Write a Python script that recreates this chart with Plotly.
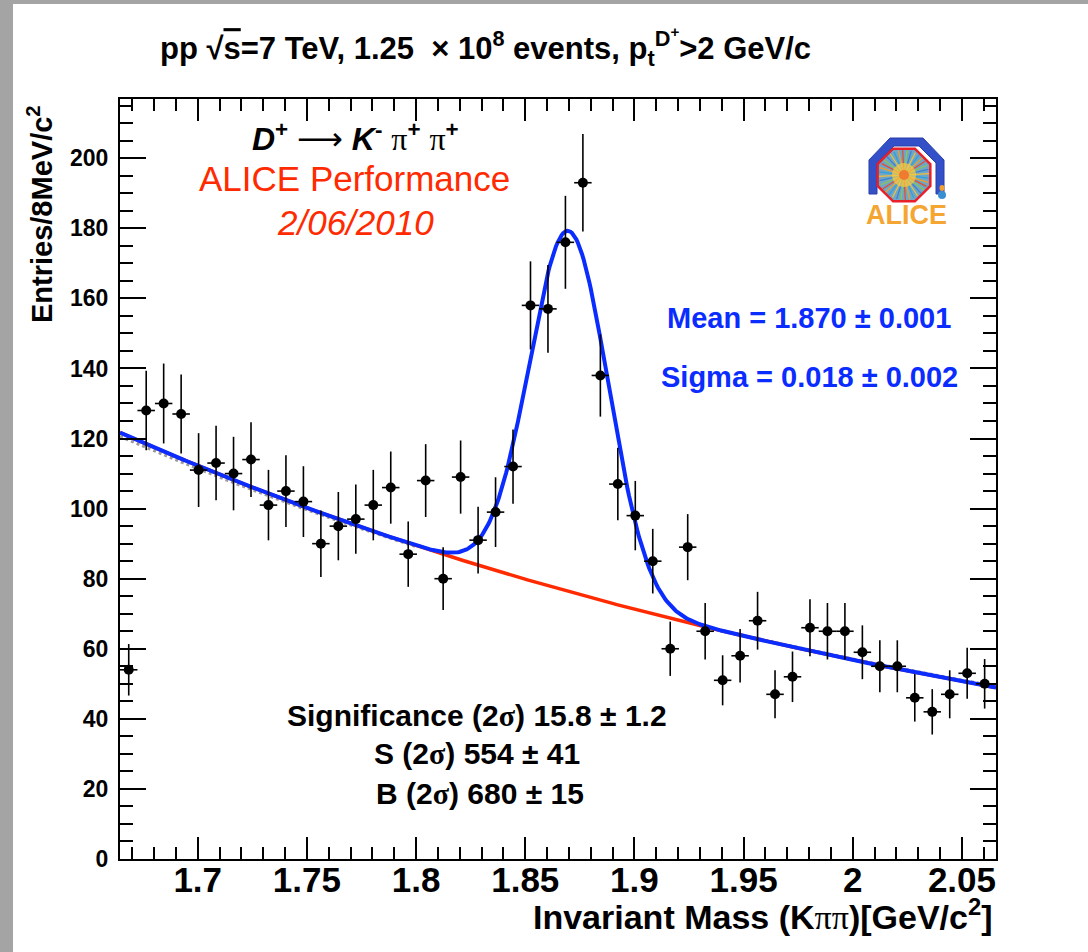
import numpy as np
import plotly.graph_objects as go
from math import erf, sqrt, pi

# ---- D+ -> K- pi+ pi+ invariant-mass histogram (8 MeV/c^2 bins) ----
mass_lo, mass_hi = 1.6644, 2.0656
bin_width = 0.008
bin_centres = [1.6684, 1.6764, 1.6844, 1.6924, 1.7004, 1.7084, 1.7164, 1.7244, 1.7324, 1.7404,
               1.7484, 1.7564, 1.7644, 1.7724, 1.7804, 1.7884, 1.7964, 1.8044, 1.8124, 1.8204,
               1.8284, 1.8364, 1.8444, 1.8524, 1.8604, 1.8684, 1.8764, 1.8844, 1.8924, 1.9004,
               1.9084, 1.9164, 1.9244, 1.9324, 1.9404, 1.9484, 1.9564, 1.9644, 1.9724, 1.9804,
               1.9884, 1.9964, 2.0044, 2.0124, 2.0204, 2.0284, 2.0364, 2.0444, 2.0524, 2.0604]
entries = [54, 128, 130, 127, 111, 113, 110, 114, 101, 105,
           102, 90, 95, 97, 101, 106, 87, 108, 80, 109,
           91, 99, 112, 158, 157, 176, 193, 138, 107, 98,
           85, 60, 89, 65, 51, 58, 68, 47, 52, 66,
           65, 65, 59, 55, 55, 46, 42, 47, 53, 50]

# ---- fit results ----
mean_val, mean_err = 1.870, 0.001
sigma_val, sigma_err = 0.018, 0.002
signif_val, signif_err = 15.8, 1.2
sig_2s, sig_2s_err = 554, 41
bkg_2s, bkg_2s_err = 680, 15
# exponential background  N(m) = A * exp(-slope * (m - mass_lo))
bkg_norm, bkg_slope = 121.7, 2.27
# side-band-only background fit
sb_norm, sb_slope = 120.6, 2.23
sb_left_max, sb_right_min = 1.800, 1.935

x_ticks = [1.70, 1.75, 1.80, 1.85, 1.90, 1.95, 2.00, 2.05]
x_tick_text = ["1.7", "1.75", "1.8", "1.85", "1.9", "1.95", "2", "2.05"]
y_ticks = [0, 20, 40, 60, 80, 100, 120, 140, 160, 180, 200]
y_max = 216.9

# ---- canvas geometry (pixels) ----
W, H = 1088, 952
PL, PR, PT, PB = 120, 996, 99, 859


def px(X):
    return (X - PL) / (PR - PL)


def py(Y):
    return (PB - Y) / (PB - PT)


FONT = "Liberation Sans, Arial, Helvetica, sans-serif"
SERIF = "Liberation Serif, Times New Roman, serif"
BLUE = "#0a2cff"
RED = "#ff2a00"

errs = [sqrt(n) for n in entries]

m = np.linspace(mass_lo, mass_hi, 600)
bkg = bkg_norm * np.exp(-bkg_slope * (m - mass_lo))
gauss_amp = sig_2s * bin_width / (sigma_val * sqrt(2 * pi) * erf(sqrt(2)))
total = bkg + gauss_amp * np.exp(-0.5 * ((m - mean_val) / sigma_val) ** 2)
sb_curve = sb_norm * np.exp(-sb_slope * (m - mass_lo))
sb_curve_masked = np.where((m < sb_left_max) | (m > sb_right_min), sb_curve, np.nan)

fig = go.Figure()

fig.add_trace(go.Scatter(x=m, y=sb_curve_masked, mode="lines",
                         line=dict(color="#9a9a9a", width=3, dash="dot"),
                         hoverinfo="skip", showlegend=False))
fig.add_trace(go.Scatter(x=m, y=bkg, mode="lines",
                         line=dict(color=RED, width=3.5),
                         hoverinfo="skip", showlegend=False))
fig.add_trace(go.Scatter(x=m, y=total, mode="lines",
                         line=dict(color=BLUE, width=4),
                         hoverinfo="skip", showlegend=False))
fig.add_trace(go.Scatter(
    x=bin_centres, y=entries, mode="markers",
    marker=dict(color="black", size=10, symbol="circle"),
    error_y=dict(type="data", array=errs, color="black", thickness=1.6, width=0),
    error_x=dict(type="constant", value=bin_width / 2, color="black", thickness=1.6, width=0),
    showlegend=False))

# ---- page background and logo ----
shapes = [
    dict(type="rect", xref="paper", yref="paper", layer="below",
         x0=px(13), x1=px(W + 5), y0=py(4), y1=py(H + 5),
         fillcolor="white", line=dict(width=0)),
]

# ALICE logo: arch, octagon and radiating tracks
cx, cy, R = 904, 175, 28.5


def path_from(points):
    s = "M " + " L ".join(f"{px(a):.5f},{py(b):.5f}" for a, b in points) + " Z"
    return s


arch = [(869, 194), (869, 160), (890, 138), (923, 138), (944, 160), (944, 194),
        (936, 194), (936, 163), (919, 146), (894, 146), (877, 163), (877, 194)]
shapes.append(dict(type="path", xref="paper", yref="paper", path=path_from(arch),
                   fillcolor="#3350c8", line=dict(color="#2a3fa8", width=1)))
octo = [(cx + R * np.cos(np.radians(22.5 + 45 * k)), cy - R * np.sin(np.radians(22.5 + 45 * k)))
        for k in range(8)]
shapes.append(dict(type="path", xref="paper", yref="paper", path=path_from(octo),
                   fillcolor="#6fa6c8", line=dict(color="#e8202a", width=2.5)))
ray_colours = ["#f2c230", "#3c7fd0", "#8cc84a", "#e84a2a", "#f5a020", "#2f9fd8"]
for k in range(36):
    a = np.radians(k * 10 + 3)
    r_end = R * 0.88
    shapes.append(dict(type="line", xref="paper", yref="paper",
                       x0=px(cx), y0=py(cy),
                       x1=px(cx + r_end * np.cos(a)), y1=py(cy - r_end * np.sin(a)),
                       line=dict(color=ray_colours[k % len(ray_colours)], width=1.2)))
shapes.append(dict(type="circle", xref="paper", yref="paper",
                   x0=px(cx - 12), x1=px(cx + 12), y0=py(cy + 12), y1=py(cy - 12),
                   fillcolor="rgba(245,200,70,0.75)", line=dict(width=0)))
shapes.append(dict(type="circle", xref="paper", yref="paper",
                   x0=px(cx - 5), x1=px(cx + 5), y0=py(cy + 5), y1=py(cy - 5),
                   fillcolor="#f07a30", line=dict(width=0)))
# little figure next to the "E"
shapes.append(dict(type="circle", xref="paper", yref="paper",
                   x0=px(938), x1=px(946), y0=py(199), y1=py(191),
                   fillcolor="#3a8fd0", line=dict(width=0)))
shapes.append(dict(type="circle", xref="paper", yref="paper",
                   x0=px(939.5), x1=px(944.5), y0=py(191), y1=py(185),
                   fillcolor="#f0a030", line=dict(width=0)))


def ann(text, X, Y, size, color="black", xanchor="center", yanchor="middle", angle=0, family=FONT):
    return dict(text=text, x=px(X), y=py(Y), xref="paper", yref="paper",
                xanchor=xanchor, yanchor=yanchor, showarrow=False, textangle=angle,
                font=dict(family=family, size=size, color=color))


pm = "±"
sig = f"<span style='font-family:{SERIF}'>σ</span>"
piS = f"<span style='font-family:{SERIF};font-weight:normal'>π</span>"
arrow = "<span style='font-family:DejaVu Sans;font-weight:normal'>⟶</span>"

annotations = [
    ann("<b>pp √<span style='text-decoration:overline'>s</span>=7 TeV, 1.25 &nbsp;× 10<sup>8</sup> events, "
        "p<sub>t</sub><sup>D<sup>+</sup></sup>>2 GeV/c</b>", 485, 47, 31),
    ann(f"<b><i>D</i><sup>+</sup></b> {arrow} <b><i>K</i><sup>-</sup></b> {piS}<sup><b>+</b></sup> {piS}<sup><b>+</b></sup>",
        355, 137, 32),
    ann("ALICE Performance", 354, 178, 35, RED),
    ann("<i>2/06/2010</i>", 355, 223, 35, RED),
    ann(f"<b>Mean = {mean_val:.3f} {pm} {mean_err:.3f}</b>", 809, 318, 29, BLUE),
    ann(f"<b>Sigma = {sigma_val:.3f} {pm} {sigma_err:.3f}</b>", 809, 377, 29, BLUE),
    ann(f"<b>Significance (2{sig}) {signif_val:.1f} {pm} {signif_err:.1f}</b>", 477, 715, 30),
    ann(f"<b>S (2{sig}) {sig_2s} {pm} {sig_2s_err}</b>", 477, 753, 30),
    ann(f"<b>B (2{sig}) {bkg_2s} {pm} {bkg_2s_err}</b>", 480, 793, 30),
    ann("<b>Entries/8MeV/c<sup>2</sup></b>", 40, 214, 29, angle=-90),
    ann(f"<b>Invariant Mass (K{piS}{piS})[GeV/c<sup>2</sup>]</b>", 995, 914, 34, xanchor="right"),
    ann("<b>ALICE</b>", 906, 215, 27, "#f5a632"),
]

axis_common = dict(showgrid=False, zeroline=False, showline=True, linecolor="black", linewidth=2,
                   ticks="inside", tickcolor="black", tickwidth=1.6, mirror="allticks")

fig.update_layout(
    width=W, height=H, autosize=False,
    margin=dict(l=PL, r=W - PR, t=PT, b=H - PB),
    paper_bgcolor="#a4a4a4", plot_bgcolor="rgba(0,0,0,0)",
    shapes=shapes, annotations=annotations,
    xaxis=dict(range=[mass_lo, mass_hi], tickvals=x_ticks, ticktext=x_tick_text, ticklen=22,
               minor=dict(dtick=0.01, tick0=1.7, ticks="inside", ticklen=12, tickwidth=1.6,
                          tickcolor="black", showgrid=False),
               tickfont=dict(family=FONT, size=35, color="black", weight="bold"),
               ticklabelstandoff=-11, **axis_common),
    yaxis=dict(range=[0, y_max], tickvals=y_ticks, ticklen=26,
               minor=dict(dtick=5, tick0=0, ticks="inside", ticklen=13, tickwidth=1.6,
                          tickcolor="black", showgrid=False),
               tickfont=dict(family=FONT, size=23, color="black", weight="bold"),
               ticklabelstandoff=5, **axis_common),
)

fig.write_html("out.html")
